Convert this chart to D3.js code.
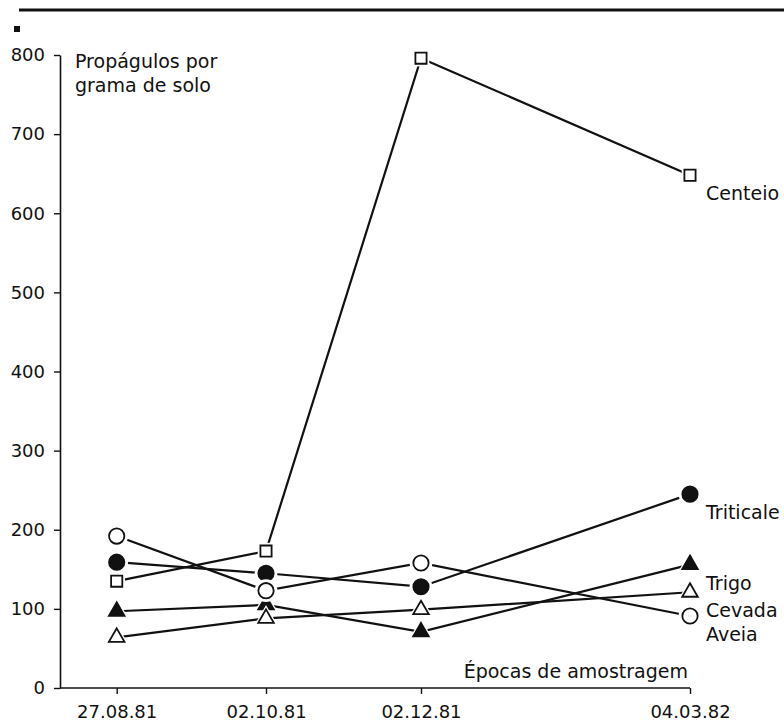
<!DOCTYPE html>
<html>
<head>
<meta charset="utf-8">
<script src="https://cdn.jsdelivr.net/npm/d3@7"></script>
<style>
  body { margin: 0; background: #fff; }
  text { font-family: "DejaVu Sans", "Liberation Sans", sans-serif; fill: #111; }
</style>
</head>
<body>
<svg width="784" height="724"></svg>
<script>
// sampling dates (not evenly spaced on the original axis)
var epocas = ["27.08.81", "02.10.81", "02.12.81", "04.03.82"];
var yTicks = [0, 100, 200, 300, 400, 500, 600, 700, 800];

var centeio   = [135, 173, 796, 648];
var triticale = [159, 145, 128, 245];
var trigo     = [97, 105, 71, 156];
var cevada    = [64, 88, 99, 121];
var aveia     = [192, 123, 158, 91];

var series = [
  { name: "Centeio",   values: centeio,   shape: "square",   filled: false },
  { name: "Triticale", values: triticale, shape: "circle",   filled: true },
  { name: "Trigo",     values: trigo,     shape: "triangle", filled: true },
  { name: "Cevada",    values: cevada,    shape: "triangle", filled: false },
  { name: "Aveia",     values: aveia,     shape: "circle",   filled: false }
];

var svg = d3.select("svg"),
    width = +svg.attr("width"),
    height = +svg.attr("height");

var font = "DejaVu Sans, Liberation Sans, sans-serif";
var x0 = 60, x1 = 690;
// position of each date along the axis, as fraction of axis length
var xFrac = [0.09, 0.327, 0.573, 1.0];
var x = d3.scaleLinear()
    .domain([0, 1, 2, 3])
    .range(xFrac.map(function(f) { return x0 + f * (x1 - x0); }));

var y = d3.scaleLinear()
    .domain([0, 800])
    .range([688, 55]);

// top rule and corner mark
svg.append("line")
    .attr("x1", 19).attr("x2", width)
    .attr("y1", 10).attr("y2", 10)
    .attr("stroke", "#111").attr("stroke-width", 3);
svg.append("rect")
    .attr("x", 14).attr("y", 26).attr("width", 6).attr("height", 6)
    .attr("fill", "#111");

// y axis
var yAxis = svg.append("g")
    .attr("transform", "translate(" + x0 + ",0)")
    .call(d3.axisLeft(y).tickValues(yTicks).tickSize(6).tickPadding(9).tickSizeOuter(0));
yAxis.select(".domain").attr("stroke", "#111").attr("stroke-width", 1.6);
yAxis.selectAll(".tick line").attr("stroke", "#111").attr("stroke-width", 1.4);
yAxis.selectAll(".tick text")
    .attr("font-size", 18).attr("font-family", font).attr("fill", "#111");

// x axis
svg.append("line")
    .attr("x1", x0).attr("x2", x1)
    .attr("y1", y(0)).attr("y2", y(0))
    .attr("stroke", "#111").attr("stroke-width", 1.6);
var xAxis = svg.append("g")
    .attr("transform", "translate(0," + y(0) + ")")
    .call(d3.axisBottom(x).tickValues([0, 1, 2, 3]).tickSize(6).tickPadding(11)
      .tickFormat(function(i) { return epocas[i]; }));
xAxis.select(".domain").remove();
xAxis.selectAll(".tick line").attr("stroke", "#111").attr("stroke-width", 1.4);
xAxis.selectAll(".tick text")
    .attr("font-size", 18).attr("font-family", font).attr("fill", "#111");

// axis titles
svg.append("text").attr("x", 75).attr("y", 68).attr("font-size", 19).text("Propágulos por");
svg.append("text").attr("x", 75).attr("y", 92).attr("font-size", 19).text("grama de solo");
svg.append("text").attr("x", 688).attr("y", 678).attr("text-anchor", "end")
    .attr("font-size", 19).text("Épocas de amostragem");

var line = d3.line()
    .x(function(d, i) { return x(i); })
    .y(function(d) { return y(d); });

series.forEach(function(s) {
  svg.append("path")
      .datum(s.values)
      .attr("d", line)
      .attr("fill", "none")
      .attr("stroke", "#111")
      .attr("stroke-width", 2.2);
});

var symType = { square: d3.symbolSquare, circle: d3.symbolCircle, triangle: d3.symbolTriangle };
var symSize = { square: 125, circle: 185, triangle: 105 };

series.forEach(function(s) {
  var g = svg.append("g");
  s.values.forEach(function(v, i) {
    var t = "translate(" + x(i) + "," + y(v) + ")";
    // white halo so lines stop short of markers
    g.append("path")
        .attr("transform", t)
        .attr("d", d3.symbol().type(symType[s.shape]).size(symSize[s.shape] * 2.2)())
        .attr("fill", "#fff");
    g.append("path")
        .attr("transform", t)
        .attr("d", d3.symbol().type(symType[s.shape]).size(symSize[s.shape])())
        .attr("fill", s.filled ? "#111" : "#fff")
        .attr("stroke", "#111")
        .attr("stroke-width", 1.8);
  });
  var last = s.values[s.values.length - 1];
  svg.append("text")
      .attr("x", x(3) + 16)
      .attr("y", y(last) + 25)
      .attr("font-size", 19)
      .text(s.name);
});
</script>
</body>
</html>
